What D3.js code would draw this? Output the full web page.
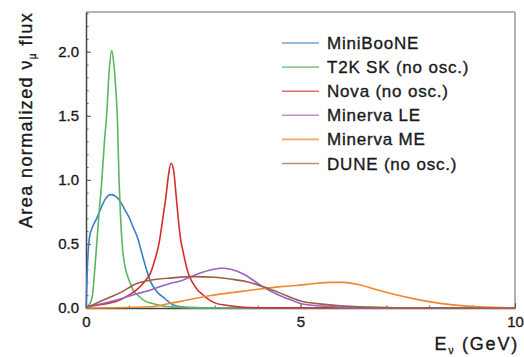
<!DOCTYPE html>
<html><head><meta charset="utf-8">
<script src="https://cdn.jsdelivr.net/npm/d3@7"></script>
<style>body{margin:0;background:#fff;}svg{display:block;font-family:"Liberation Sans",Arial,sans-serif;}</style>
</head><body><svg id="c" width="524" height="357"></svg>
<script>
const seriesNames = ["MiniBooNE","T2K SK (no osc.)","Nova (no osc.)","Minerva LE","Minerva ME","DUNE (no osc.)"];
const seriesColors = ["#3b7dc6","#5cb65c","#d42d2d","#9a62c2","#f0872c","#9b5f48"];
const miniBooNE = [[0,0],[0.03,0.3],[0.08,0.55],[0.15,0.63],[0.25,0.7],[0.35,0.78],[0.45,0.85],[0.58,0.885],[0.7,0.87],[0.8,0.83],[0.9,0.77],[1.0,0.71],[1.1,0.63],[1.2,0.55],[1.3,0.43],[1.4,0.31],[1.5,0.21],[1.6,0.15],[1.7,0.11],[1.8,0.085],[1.9,0.055],[2.0,0.03],[2.2,0.01],[2.5,0.003],[3,0],[10,0]];
const t2k = [[0,0],[0.1,0.04],[0.15,0.1],[0.2,0.28],[0.25,0.5],[0.3,0.72],[0.37,1.0],[0.43,1.3],[0.48,1.5],[0.54,1.85],[0.6,2.01],[0.65,1.9],[0.7,1.68],[0.73,1.5],[0.77,1.0],[0.8,0.75],[0.85,0.47],[0.9,0.34],[1.0,0.22],[1.1,0.14],[1.24,0.09],[1.4,0.05],[1.55,0.035],[1.8,0.015],[2.2,0.005],[3,0],[10,0]];
const nova = [[0,0.01],[0.4,0.03],[0.7,0.05],[1.0,0.1],[1.17,0.14],[1.3,0.18],[1.4,0.22],[1.5,0.27],[1.6,0.37],[1.7,0.5],[1.8,0.72],[1.86,0.86],[1.92,1.03],[1.98,1.13],[2.04,1.08],[2.1,0.88],[2.15,0.7],[2.2,0.55],[2.27,0.43],[2.35,0.31],[2.42,0.24],[2.5,0.19],[2.6,0.14],[2.7,0.11],[2.8,0.08],[3.0,0.04],[3.3,0.02],[3.6,0.008],[4,0.002],[10,0]];
const minervaLE = [[0,0.01],[0.39,0.035],[0.8,0.07],[1.17,0.11],[1.41,0.13],[1.94,0.19],[2.2,0.21],[2.56,0.26],[2.95,0.3],[3.15,0.31],[3.4,0.3],[3.7,0.26],[4.1,0.17],[4.5,0.1],[4.8,0.06],[5.0,0.035],[5.5,0.015],[6,0.005],[7,0],[10,0]];
const minervaME = [[0,0],[1.5,0.01],[1.94,0.035],[2.33,0.06],[2.95,0.1],[3.4,0.12],[3.75,0.135],[4.1,0.15],[4.5,0.165],[4.9,0.175],[5.3,0.19],[5.7,0.2],[6.0,0.2],[6.4,0.18],[6.8,0.14],[7.2,0.105],[7.6,0.075],[8.0,0.05],[8.4,0.03],[8.9,0.015],[9.5,0.005],[10,0]];
const dune = [[0,0],[0.33,0.05],[0.6,0.09],[0.8,0.12],[1.17,0.19],[1.55,0.22],[2.0,0.235],[2.5,0.245],[3.0,0.24],[3.4,0.225],[3.75,0.205],[4.1,0.17],[4.5,0.12],[5.0,0.055],[5.5,0.03],[6.0,0.015],[7,0.004],[8,0],[10,0]];
const seriesData = [miniBooNE,t2k,nova,minervaLE,minervaME,dune];
const yTicks = [0,0.5,1.0,1.5,2.0];
const xTicks = [0,5,10];

const svg = d3.select("#c");
const L=86,R=515,T=12,B=308;
const x = d3.scaleLinear().domain([0,10]).range([L,R]);
const y = d3.scaleLinear().domain([0,2.31]).range([B,T]);
const ink = "#1a1a1a";

// frame
svg.append("line").attr("x1",L).attr("x2",R).attr("y1",T).attr("y2",T).attr("stroke","#999").attr("stroke-width",1.5);
svg.append("line").attr("x1",R).attr("x2",R).attr("y1",T).attr("y2",B).attr("stroke","#999").attr("stroke-width",1.5);

// axes
const yAxis = d3.axisLeft(y).tickValues(yTicks).tickFormat(d3.format(".1f")).tickSizeInner(-5).tickSizeOuter(0).tickPadding(7);
svg.append("g").attr("transform",`translate(${L},0)`).call(yAxis);
const yMinor = d3.axisLeft(y).tickValues(d3.range(0,2.31,0.1)).tickFormat("").tickSizeInner(-2.5).tickSizeOuter(0);
svg.append("g").attr("transform",`translate(${L},0)`).call(yMinor).select(".domain").remove();
const xAxis = d3.axisBottom(x).tickValues(xTicks).tickFormat(d3.format("d")).tickSizeInner(-5).tickSizeOuter(0).tickPadding(8);
svg.append("g").attr("transform",`translate(0,${B})`).call(xAxis);
const xMinor = d3.axisBottom(x).tickValues(d3.range(0,10.01,1)).tickFormat("").tickSizeInner(-2.5).tickSizeOuter(0);
svg.append("g").attr("transform",`translate(0,${B})`).call(xMinor).select(".domain").remove();
svg.selectAll(".domain").attr("stroke","#444").attr("stroke-width",1.5);
svg.selectAll(".tick line").attr("stroke","#555");
svg.selectAll(".tick text").attr("font-size",15).attr("fill",ink).attr("stroke",ink).attr("stroke-width",0.35)
  .attr("font-family","Liberation Sans, Arial, sans-serif");

// curves
const line = d3.line().x(d=>x(d[0])).y(d=>y(d[1])).curve(d3.curveMonotoneX);
svg.append("g").selectAll("path").data(seriesData).join("path")
  .attr("d",line).attr("fill","none")
  .attr("stroke",(d,i)=>seriesColors[i]).attr("stroke-width",1.6);

// legend
const lg = svg.append("g");
seriesNames.forEach((n,i)=>{
  const yy = 43 + i*24.1;
  lg.append("line").attr("x1",282).attr("x2",319).attr("y1",yy).attr("y2",yy)
    .attr("stroke",seriesColors[i]).attr("stroke-width",1.6).attr("opacity",0.7);
  lg.append("text").attr("x",327).attr("y",yy+6).attr("font-size",17).attr("letter-spacing",0.8)
    .attr("fill",ink).attr("stroke",ink).attr("stroke-width",0.35).text(n);
});

// axis titles
const yt = svg.append("text").attr("transform","translate(32,120) rotate(-90)")
  .attr("text-anchor","middle").attr("font-size",18).attr("letter-spacing",1.4)
  .attr("fill",ink).attr("stroke",ink).attr("stroke-width",0.35);
yt.append("tspan").text("Area normalized ν");
yt.append("tspan").attr("font-size",10).attr("dy",4).text("μ");
yt.append("tspan").attr("dy",-4).text(" flux");

const xt = svg.append("text").attr("x",519).attr("y",350).attr("text-anchor","end")
  .attr("font-size",18).attr("letter-spacing",1.8)
  .attr("fill",ink).attr("stroke",ink).attr("stroke-width",0.35);
xt.append("tspan").text("E");
xt.append("tspan").attr("font-size",10).attr("dy",4).text("ν");
xt.append("tspan").attr("dy",-4).text(" (GeV)");
</script></body></html>
